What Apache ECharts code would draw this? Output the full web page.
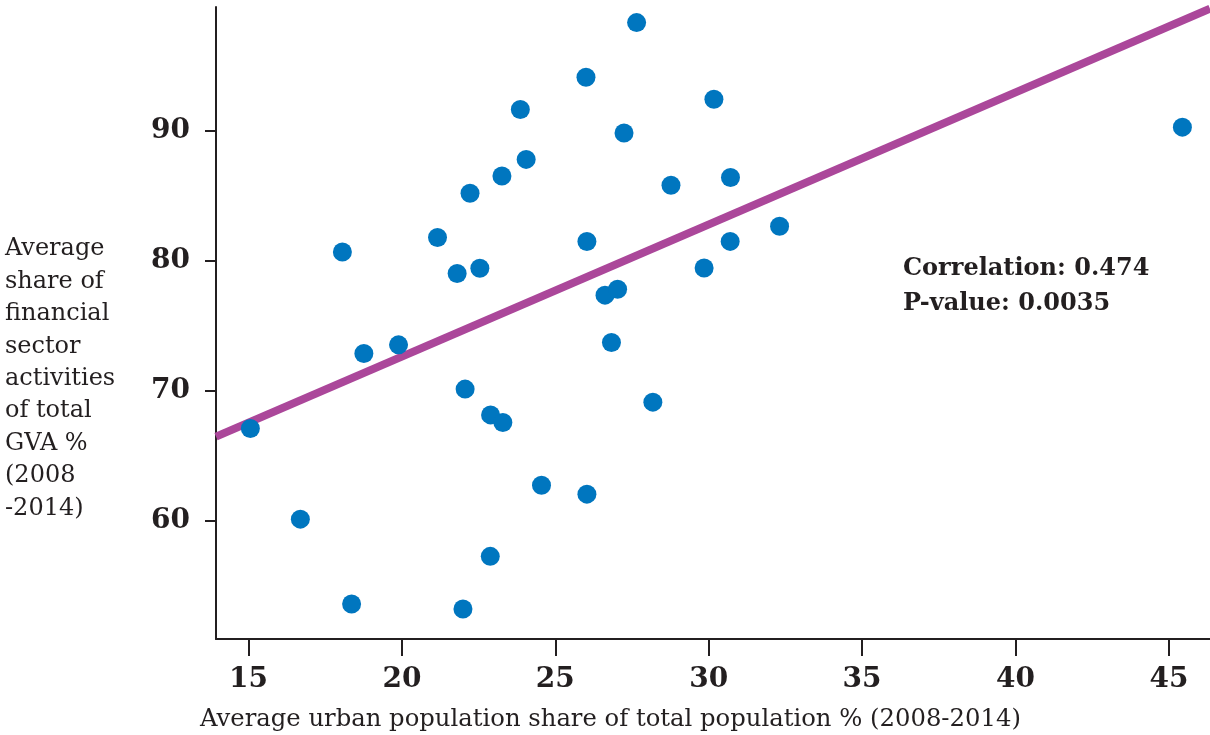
<!DOCTYPE html>
<html>
<head>
<meta charset="utf-8">
<script src="https://cdn.jsdelivr.net/npm/echarts@6/dist/echarts.min.js"></script>
<style>
  html, body { margin: 0; padding: 0; background: #fff; }
  #chart { width: 1210px; height: 735px; }
</style>
</head>
<body>
<div id="chart"></div>
<script>
// urban population share (x) vs financial sector share of GVA (y)
const urbanShare = [
  15.06, 16.69, 18.06, 18.36, 18.76, 19.89, 21.16, 21.80, 21.99, 22.06,
  22.22, 22.54, 22.89, 22.88, 23.26, 23.29, 23.86, 24.05, 24.55, 26.00,
  26.03, 26.03, 26.62, 26.83, 27.03, 27.24, 27.65, 28.18, 28.77, 29.85,
  30.17, 30.70, 30.71, 32.31, 45.44
];
const financeShare = [
  67.12, 60.15, 80.68, 53.63, 72.88, 73.54, 81.79, 79.02, 53.24, 70.14,
  85.19, 79.43, 68.16, 57.29, 86.52, 67.58, 91.63, 87.79, 62.76, 94.10,
  81.48, 62.07, 77.36, 73.72, 77.82, 89.82, 98.30, 69.14, 85.81, 79.45,
  92.41, 81.49, 86.40, 82.66, 90.27
];
// fitted line end points (as drawn)
const fitX = [13.94, 46.34];
const fitY = [66.49, 99.37];

const xTicks = [15, 20, 25, 30, 35, 40, 45];
const yTicks = [60, 70, 80, 90];

const yTitle = ["Average", "share of", "financial", "sector", "activities",
  "of total", "GVA %", "(2008", "-2014)"];
const xTitle = "Average urban population share of total population % (2008-2014)";
const statsText = ["Correlation: 0.474", "P-value: 0.0035"];

const font = "'DejaVu Serif', serif";
const ink = "#231f20";

const chart = echarts.init(document.getElementById("chart"));

const points = urbanShare.map((x, i) => [x, financeShare[i]]);
const fitLine = fitX.map((x, i) => [x, fitY[i]]);

const option = {
  backgroundColor: "#fff",
  animation: false,
  grid: { left: 216, right: 0, top: 7, bottom: 96 },
  xAxis: {
    type: "value",
    min: 13.94,
    max: 46.34,
    splitLine: { show: false },
    axisLine: { lineStyle: { color: ink, width: 2 } },
    axisTick: { show: true, length: 17, customValues: xTicks, lineStyle: { color: ink, width: 2 } },
    axisLabel: {
      customValues: xTicks,
      margin: 27,
      color: ink,
      fontFamily: font,
      fontWeight: "bold",
      fontSize: 28,
    },
  },
  yAxis: {
    type: "value",
    min: 50.94,
    max: 99.5,
    splitLine: { show: false },
    axisLine: { show: true, lineStyle: { color: ink, width: 2 } },
    axisTick: { show: true, length: 11, customValues: yTicks, lineStyle: { color: ink, width: 2 } },
    axisLabel: {
      customValues: yTicks,
      margin: 26,
      color: ink,
      fontFamily: font,
      fontWeight: "bold",
      fontSize: 28,
    },
  },
  graphic: [
    {
      type: "text",
      left: 5,
      top: 233,
      style: {
        text: yTitle.join("\n"),
        font: "24px " + font,
        lineHeight: 32.4,
        fill: ink,
      },
    },
    {
      type: "text",
      left: 200,
      top: 708,
      style: {
        text: xTitle,
        font: "24.3px " + font,
        fill: ink,
      },
    },
    {
      type: "text",
      left: 903,
      top: 251,
      style: {
        text: statsText.join("\n"),
        font: "bold 24px " + font,
        lineHeight: 35,
        fill: ink,
      },
    },
  ],
  series: [
    {
      type: "line",
      data: fitLine,
      symbol: "none",
      clip: false,
      z: 1,
      lineStyle: { color: "#ab479a", width: 8 },
    },
    {
      type: "scatter",
      data: points,
      symbolSize: 19,
      z: 3,
      itemStyle: { color: "#0076bf", opacity: 1 },
    },
  ],
};

chart.setOption(option);
</script>
</body>
</html>
